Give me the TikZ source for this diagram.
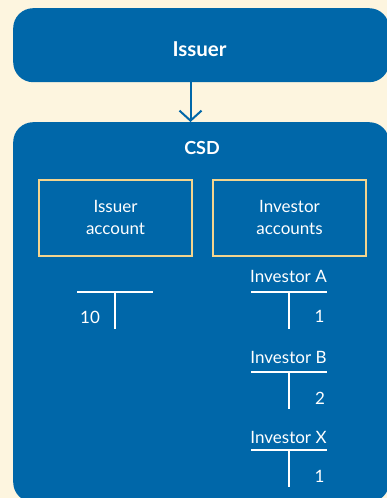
\documentclass[tikz,border=0pt]{standalone}
\usepackage{fontspec}
\setmainfont{Lato}
\usetikzlibrary{arrows.meta}
\definecolor{bgcream}{HTML}{FDF5DF}
\definecolor{csdblue}{HTML}{0067A9}
\definecolor{boxyellow}{HTML}{F3D48E}
\begin{document}
\begin{tikzpicture}[x=1pt,y=-1pt,
  bigbox/.style={fill=csdblue, rounded corners=20pt, inner sep=0pt, anchor=north west},
  titletext/.style={text=white, font=\fontsize{18}{20}\selectfont\bfseries, anchor=base, inner sep=0pt},
  acctbox/.style={draw=boxyellow, line width=2pt, inner sep=0pt, minimum width=153pt, minimum height=76pt, anchor=north west, text=white, align=center, font=\fontsize{17}{21.5}\selectfont},
  plain/.style={text=white, font=\fontsize{17}{20}\selectfont, anchor=base, inner sep=0pt},
  tline/.style={draw=white, line width=2pt},
  flow/.style={draw=csdblue, line width=2pt, -{Straight Barb[length=10pt,width=22pt,line width=2pt]}}
]
\useasboundingbox (0,0) rectangle (387,498);
\clip (0,0) rectangle (387,498);
\fill[bgcream] (0,0) rectangle (387,498);

% main boxes
\node[bigbox, minimum width=376pt, minimum height=74pt] (issuer) at (13,8) {};
\node[titletext, font=\fontsize{20.5}{22}\selectfont\bfseries] (issuerlbl) at (199.5,56) {Issuer};
\node[bigbox, minimum width=376pt, minimum height=380pt] (csd) at (13,122) {};
\node[titletext] (csdlbl) at (202,154) {CSD};

% arrow
\coordinate (ax) at (190.5,100);
\draw[flow] (issuer.south -| ax) -- (csd.north -| ax);

% account boxes
\node[acctbox] (issacct) at (38,178.5) {Issuer\\account};
\node[acctbox] (invacct) at (212,178.5) {Investor\\accounts};

% issuer T-account
\coordinate (tiL) at (77,292);
\coordinate (tiR) at (153,292);
\coordinate (tiM) at (115,292);
\coordinate (tiB) at (115,329);
\draw[tline] (tiL) -- (tiR);
\draw[tline] (tiM) -- (tiB);
\node[plain] (ten) at (90,323) {10};

% investor A
\node[plain] (invA) at (288.5,282) {Investor A};
\coordinate (taL) at (251,292);
\coordinate (taR) at (327,292);
\coordinate (taM) at (288.5,292);
\coordinate (taB) at (288.5,329);
\draw[tline] (taL) -- (taR);
\draw[tline] (taM) -- (taB);
\node[plain] (valA) at (319.5,322.5) {1};

% investor B
\node[plain] (invB) at (288.5,363) {Investor B};
\coordinate (tbL) at (251,372);
\coordinate (tbR) at (327,372);
\coordinate (tbM) at (288.5,372);
\coordinate (tbB) at (288.5,409);
\draw[tline] (tbL) -- (tbR);
\draw[tline] (tbM) -- (tbB);
\node[plain] (valB) at (320,404) {2};

% investor X
\node[plain] (invX) at (288.5,443) {Investor X};
\coordinate (txL) at (251,450);
\coordinate (txR) at (327,450);
\coordinate (txM) at (288.5,450);
\coordinate (txB) at (288.5,487);
\draw[tline] (txL) -- (txR);
\draw[tline] (txM) -- (txB);
\node[plain] (valX) at (319.5,482) {1};
\end{tikzpicture}
\end{document}
